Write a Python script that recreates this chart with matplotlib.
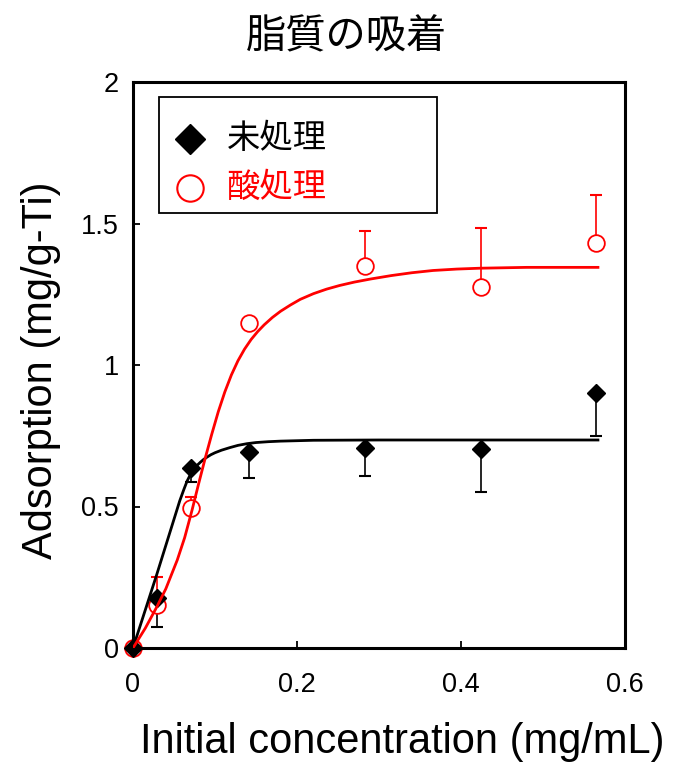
import matplotlib
matplotlib.use('Agg')
import matplotlib.pyplot as plt
from matplotlib.patches import Rectangle
import numpy as np

plt.rcParams['font.family'] = ['Liberation Sans', 'Noto Sans CJK JP', 'DejaVu Sans']

# measured points
conc = [0, 0.029, 0.071, 0.142, 0.283, 0.424, 0.565]
untreated = [0, 0.177, 0.636, 0.693, 0.707, 0.703, 0.901]
untreated_err = [0, 0.103, 0.05, 0.093, 0.10, 0.152, 0.152]   # lower side only
acid = [0, 0.152, 0.495, 1.148, 1.35, 1.276, 1.431]
acid_err = [0, 0.10, 0.04, 0, 0.124, 0.208, 0.17]          # upper side only

# fitted curves
fit_untreated_x = [0, 0.029, 0.050, 0.057, 0.062, 0.066, 0.070, 0.074, 0.078, 0.082, 0.086,
                   0.090, 0.095, 0.100, 0.108, 0.118, 0.128, 0.139, 0.150, 0.165, 0.180,
                   0.220, 0.300, 0.567]
fit_untreated_y = [0, 0.26, 0.455, 0.52, 0.56, 0.59, 0.613, 0.631, 0.645, 0.656, 0.666,
                   0.674, 0.683, 0.69, 0.699, 0.708, 0.716, 0.722, 0.726, 0.729, 0.731,
                   0.734, 0.735, 0.735]
fit_acid_x = [0, 0.015, 0.029, 0.040, 0.054, 0.063, 0.072, 0.080, 0.088, 0.096, 0.104,
              0.112, 0.120, 0.128, 0.136, 0.144, 0.152, 0.160, 0.170, 0.180, 0.192,
              0.204, 0.220, 0.236, 0.252, 0.270, 0.290, 0.315, 0.340, 0.366, 0.395,
              0.423, 0.480, 0.567]
fit_acid_y = [0, 0.07, 0.145, 0.209, 0.311, 0.39, 0.487, 0.58, 0.67, 0.755, 0.835,
              0.905, 0.965, 1.015, 1.056, 1.09, 1.118, 1.142, 1.168, 1.19, 1.212,
              1.232, 1.252, 1.268, 1.281, 1.293, 1.304, 1.316, 1.326, 1.334, 1.339,
              1.342, 1.345, 1.345]

title = '脂質の吸着'
labels = ['未処理', '酸処理']
xticks = [0, 0.2, 0.4, 0.6]
yticks = [0, 0.5, 1, 1.5, 2]

fig = plt.figure(figsize=(6.75, 7.64), dpi=100)
ax = fig.add_axes([133/675, 1-648/764, 492/675, 566/764])

x = np.array(conc)
# one-sided error bars, cap only at the far end
u_lo = np.array(untreated) - np.array(untreated_err)
a_hi = np.array(acid) + np.array(acid_err)
has_u = np.array(untreated_err) > 0
has_a = np.array(acid_err) > 0
ax.vlines(x[has_u], u_lo[has_u], np.array(untreated)[has_u], color='black', lw=1.2, zorder=1)
ax.plot(x[has_u], u_lo[has_u], ls='none', marker='_', ms=9, mew=1.5, color='black', zorder=1)
ax.vlines(x[has_a], np.array(acid)[has_a], a_hi[has_a], color='red', lw=1.2, zorder=1)
ax.plot(x[has_a], a_hi[has_a], ls='none', marker='_', ms=9, mew=1.5, color='red', zorder=1)

ax.plot(x, acid, ls='none', marker='o', ms=12, mfc='white', mec='red', mew=1.3, zorder=2.5,
        clip_on=False)
ax.plot(x, untreated, ls='none', marker='D', ms=9.5, color='black', zorder=3, clip_on=False)

ax.plot(fit_untreated_x, fit_untreated_y, color='black', lw=2, zorder=4)
ax.plot(fit_acid_x, fit_acid_y, color='red', lw=2, zorder=4)

ax.set_xlim(0, 0.6)
ax.set_ylim(0, 2)
ax.set_xticks(xticks)
ax.set_xticklabels(['0', '0.2', '0.4', '0.6'])
ax.set_yticks(yticks)
ax.set_yticklabels(['0', '0.5', '1', '1.5', '2'])
ax.tick_params(direction='in', length=5, width=1.3, labelsize=19.5)
ax.tick_params(axis='x', pad=17)
ax.tick_params(axis='y', pad=10)
for s in ax.spines.values():
    s.set_linewidth(2.2)

ax.set_xlabel('Initial concentration (mg/mL)', fontsize=30)
ax.xaxis.set_label_coords(0.547, -0.13)
ax.set_ylabel('Adsorption (mg/g-Ti)', fontsize=30)
ax.yaxis.set_label_coords(-0.146, 0.49)

fig.text(347/675, 1-37/764, title, ha='center', va='center', fontsize=29)

# legend box drawn by hand to match the original layout
ax.add_patch(Rectangle((0.053, 0.7686), 0.565, 0.2049, transform=ax.transAxes,
                       facecolor='white', edgecolor='black', lw=1.3, zorder=5))
leg_y = [0.8995, 0.8125]
ax.plot([0.1159], [leg_y[0]], transform=ax.transAxes, marker='D', ms=15, color='black',
        ls='none', zorder=6, clip_on=False)
ax.plot([0.1159], [leg_y[1]], transform=ax.transAxes, marker='o', ms=19, mfc='white',
        mec='red', mew=1.5, ls='none', zorder=6, clip_on=False)
for yy, lab, col in zip(leg_y, labels, ['black', 'red']):
    ax.text(0.19, yy, lab, transform=ax.transAxes, fontsize=24, color=col,
            ha='left', va='center', zorder=6)

fig.savefig('out.png', dpi=100)
